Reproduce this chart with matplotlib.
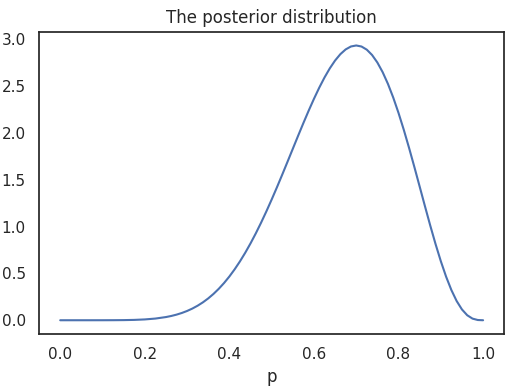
import numpy as np
import matplotlib
matplotlib.use("Agg")
import matplotlib.pyplot as plt
import seaborn as sns

# posterior density values
p_grid = [0.0, 0.025, 0.05, 0.075, 0.1, 0.125, 0.15, 0.175, 0.2, 0.225,
          0.25, 0.2625, 0.275, 0.2875, 0.3, 0.3125, 0.325, 0.3375, 0.35, 0.3625,
          0.375, 0.3875, 0.4, 0.4125, 0.425, 0.4375, 0.45, 0.4625, 0.475, 0.4875,
          0.5, 0.5125, 0.525, 0.5375, 0.55, 0.5625, 0.575, 0.5875, 0.6, 0.6125,
          0.625, 0.6375, 0.65, 0.6625, 0.675, 0.6875, 0.7, 0.7125, 0.725, 0.7375,
          0.75, 0.7625, 0.775, 0.7875, 0.8, 0.8125, 0.825, 0.8375, 0.85, 0.8625,
          0.875, 0.8875, 0.9, 0.9125, 0.925, 0.9375, 0.95, 0.9625, 0.975, 0.9875,
          1.0]
posterior = [0.0, 0.0, 0.0, 0.0, 0.0001, 0.0005, 0.0014, 0.0037, 0.0087, 0.0179,
             0.034, 0.0455, 0.0598, 0.0775, 0.099, 0.1248, 0.1555, 0.1914, 0.2332, 0.2813,
             0.3361, 0.3979, 0.4671, 0.544, 0.6285, 0.7208, 0.8206, 0.9279, 1.0421, 1.1627,
             1.2891, 1.4202, 1.5551, 1.6926, 1.8312, 1.9696, 2.1058, 2.2382, 2.3649, 2.4839,
             2.5932, 2.6907, 2.7744, 2.8425, 2.893, 2.9244, 2.9352, 2.924, 2.8903, 2.8333,
             2.753, 2.65, 2.5248, 2.379, 2.2146, 2.0339, 1.8402, 1.6369, 1.4282, 1.2184,
             1.0124, 0.8151, 0.6314, 0.4658, 0.3227, 0.2051, 0.1152, 0.0533, 0.0173, 0.0024,
             0.0]

sns.set_style("white")
sns.set_context("notebook")

fig = plt.figure(figsize=(5.14, 3.87), dpi=100)
ax = fig.add_axes([0.076, 0.137, 0.905, 0.781])
ax.plot(p_grid, posterior, color="#4c72b0", linewidth=1.5)
ax.set_title("The posterior distribution")
ax.set_xlabel("p")
ax.set_yticks([0.0, 0.5, 1.0, 1.5, 2.0, 2.5, 3.0])

plt.savefig("out.png", dpi=100)
